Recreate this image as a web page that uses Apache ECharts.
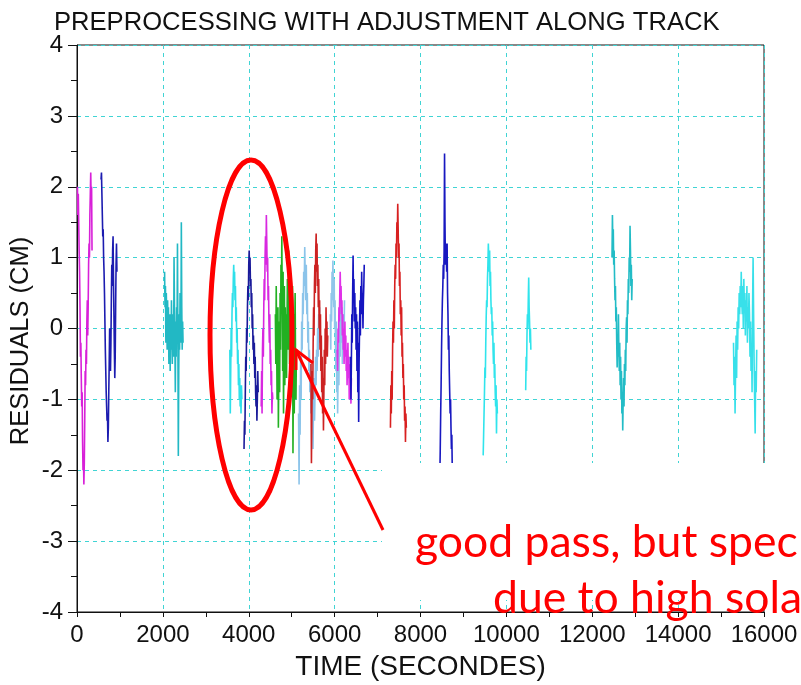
<!DOCTYPE html>
<html><head><meta charset="utf-8">
<script src="https://cdn.jsdelivr.net/npm/echarts@6/dist/echarts.min.js"></script>
<style>html,body{margin:0;padding:0;background:#fff}#c{width:801px;height:685px}</style>
</head><body><div id="c"></div>
<script>
// Tick labels
const xTicks = [0,2000,4000,6000,8000,10000,12000,14000,16000];
const yTicks = [-4,-3,-2,-1,0,1,2,3,4];
// Each pass: start time (s), sample step (s), residual values (cm)
const passStart = [10, 560, 2040, 3560, 3890, 4290, 4620, 5160, 5450, 5900, 6060, 6370, 7300, 8440, 9460, 10450, 12460, 15290];
const passStep  = [10, 10, 10, 10, 10, 10, 10, 12, 10, 10, 10, 10, 10, 10, 10, 10, 10, 12];
const pass01 = [2.0,1.6,1.9,1.5,1.1,0.8,0.3,-0.4,-0.2,-0.7,-1.1,-0.9,-1.6,-2.0,-1.8,-2.2,-1.9,-1.3,-0.6,-0.8,-0.3,-0.5,0.1,0.4,-0.1,0.3,0.9,1.2,1.0,1.6,1.9,2.2,1.8,2.0,1.1];
const pass02 = [2.1,2.2,1.9,1.6,1.3,1.4,1.0,0.8,0.5,0.1,-0.3,-0.6,-0.9,-1.1,-1.3,-1.2,-1.6,-1.4,-0.9,-0.5,0.0,-0.3,-0.6,-0.2,0.4,0.9,0.6,1.1,1.3,0.7,0.2,-0.3,-0.7,-0.4,0.3,0.9,1.2,0.8];
const pass03 = [0.8,0.3,0.6,-0.2,0.5,0.1,-0.3,0.4,0.0,0.3,-0.5,-0.2,0.2,-0.6,0.1,-0.3,0.4,-0.1,-0.5,0.2,0.0,-0.4,1.0,0.3,-0.2,-0.9,0.1,-0.4,0.3,-0.1,1.2,-0.2,-1.8,-0.6,0.2,-0.3,0.5,0.0,-0.2,1.5,0.3,-0.3,0.1,-0.2];
const pass04 = [-0.3,-1.2,-0.6,0.0,-0.4,0.2,0.5,0.3,0.7,0.9,0.6,0.8,0.4,0.6,0.1,0.3,-0.2,0.0,-0.5,-0.3,-0.8,-0.5,-1.0,-0.7,-1.1,-0.9,-1.2,-0.8,-1.0];
const pass05 = [-1.7,-1.3,-1.5,-0.9,-0.4,-0.6,0.0,-0.2,0.3,0.6,0.4,0.9,1.1,0.8,1.0,0.6,0.7,0.3,0.5,0.0,0.2,-0.3,-0.1,-0.5,-0.2,-0.7,-0.4,-0.9,-1.1,-0.8,-1.3,-1.0,-0.6,-0.9];
const pass06 = [-1.1,-0.6,-1.2,-0.3,0.0,-0.4,0.3,0.7,0.4,1.0,1.3,0.9,1.6,1.2,0.8,1.0,0.4,0.6,0.1,-0.2,0.2,-0.5,-0.3,-0.8,-0.6,-1.2,-0.9,-1.0];
const pass07 = [0.2,-0.5,0.6,-0.2,-1.0,-0.4,0.3,-1.4,-0.6,0.1,-0.9,0.5,-0.3,0.9,0.2,1.3,0.4,-0.6,0.8,-1.2,-0.2,0.6,-0.8,0.3,-0.4,0.2,-0.7,0.0,0.7,-0.3,0.4,1.1,0.2,-0.5,0.9,-0.2,0.3,-0.9,0.1,-0.4,0.6,-1.76,-0.6,0.2,-1.2,-0.1,0.5,-0.5,-1.0,-0.3];
const pass08 = [-1.2,-2.2,-0.8,-1.5,-0.4,-1.0,0.1,-0.3,0.5,0.2,0.8,0.6,1.15,0.7,0.4,0.9,0.2,0.5,-0.2,0.1,-0.6,-0.3,-0.9,-0.5,-1.2,-0.8,-1.4,-1.0,-1.7,-1.1,-0.7,-1.3,-0.9,-0.4,-0.8,-0.3,-0.6,0.0,-0.4,0.2,-0.2,0.3];
const pass09 = [-0.5,-1.9,-1.2,-0.6,-1.0,-0.2,0.3,-0.1,0.6,0.9,0.5,1.1,1.34,0.8,1.2,0.6,0.9,0.3,0.7,0.0,0.4,-0.3,0.2,-0.6,-0.1,-0.9,-0.4,-1.2,-0.7,-1.44,-0.9,-0.3,-0.8,0.0,-0.5,0.3,-0.2,0.1,-0.4,-0.1];
const pass10 = [0.2,-0.3,0.5,0.1,0.8,0.4,0.96,0.6,0.3,0.7,0.0,0.4,-0.2,-0.6,0.1,-0.9,-0.4,-1.2,-0.7,-0.3,-0.8,-0.1,0.2,-0.4,0.5,0.1,-0.2,0.3,-0.5,0.0,-0.3,0.2,-0.1,0.4];
const pass11 = [-0.3,-0.6,0.0,-0.2,0.3,0.1,0.5,0.8,0.4,0.6,0.2,0.4,-0.1,0.2,-0.3,0.0,-0.5,-0.2,0.1,-0.4,-0.1,-0.6,-0.3,-0.8,-0.5,-0.2,-0.7,-0.4,-1.0,-0.6,-0.8,-0.5,-1.06,-0.7];
const pass12 = [-0.4,-1.0,-0.5,0.2,-0.2,0.5,1.03,0.4,0.7,0.1,0.5,0.0,0.3,-0.3,0.2,-0.6,0.1,-0.9,-0.2,-1.32,-0.5,0.0,0.4,-0.1,0.6,0.2,0.8,0.3,0.5,0.0,0.4,0.6,0.9];
const pass13 = [-1.4,-0.8,-1.2,-0.6,-1.0,-0.3,0.1,-0.2,0.4,0.0,0.6,0.9,0.7,1.2,1.0,1.5,1.3,1.76,1.4,1.0,1.2,0.6,0.8,0.2,0.4,-0.1,0.3,-0.4,-0.2,-0.7,-0.5,-1.0,-0.8,-1.3,-1.1,-1.6,-1.2,-1.4];
const pass14 = [-2.4,-2.1,-1.7,-1.2,-0.8,-0.3,0.1,0.4,0.6,0.9,0.7,1.1,2.47,1.5,0.9,1.2,1.0,0.8,1.2,0.5,0.2,-0.3,-0.1,-0.6,-0.9,-1.2,-1.0,-1.4,-1.7,-1.5,-2.0,-2.3];
const pass15 = [-1.79,-1.5,-1.2,-0.9,-0.55,-0.7,-0.2,0.16,0.4,0.3,0.7,0.9,1.2,1.0,0.8,1.1,0.6,0.8,0.4,0.2,0.3,-0.1,0.1,-0.3,-0.5,-0.2,-0.7,-0.5,-0.9,-1.1,-0.8,-1.48,-1.0,-1.2];
const pass16 = [-0.87,-0.4,-0.6,-0.1,0.2,0.0,0.4,0.72,0.3,0.1,-0.2,0.0,-0.3];
const pass17 = [1.0,1.6,1.2,1.4,0.9,1.1,0.7,0.4,0.6,0.1,0.3,-0.2,-0.55,-0.1,-0.4,0.2,-0.3,-0.6,-0.2,-0.8,-0.4,-1.0,-0.6,-1.2,-0.9,-1.44,-1.0,-0.7,-1.1,-0.5,-0.8,-0.3,-0.6,0.0,0.16,-0.2,0.4,0.2,0.7,0.5,1.0,0.8,1.45,1.1,0.6,0.9,0.4,0.7];
const pass18 = [-0.2,-0.8,-0.4,-1.2,-0.6,-0.1,-0.7,0.1,-0.3,0.3,0.0,0.5,0.2,0.6,0.3,0.8,0.4,0.2,0.6,0.0,0.7,0.3,0.5,-0.1,0.4,0.1,0.6,-0.2,0.3,0.0,0.5,0.2,-0.4,0.1,-0.6,-0.2,-0.9,0.3,1.0,0.2,-0.5,-1.0,-1.48,-0.6,-0.9,-0.3];

const passes = [pass01,pass02,pass03,pass04,pass05,pass06,pass07,pass08,pass09,pass10,pass11,pass12,pass13,pass14,pass15,pass16,pass17,pass18];
const passColors = ['#d820d8','#1c1cb0','#22b8c4','#2ee0ea','#1a1a9a','#d828e0','#22b022','#8cc4ea','#cc2222','#90c6ea','#e030e8','#1515c0','#d82020','#1818c0','#30e4ec','#30e4ec','#22bcc6','#38e0ea'];

const series = passes.map((vals, k) => ({
  type: 'line',
  showSymbol: false,
  silent: true,
  animation: false,
  lineStyle: { color: passColors[k], width: 1.6 },
  data: vals.map((v, i) => [passStart[k] + i * passStep[k], v])
}));

const chart = echarts.init(document.getElementById('c'), null, { renderer: 'canvas' });
const gridLine = { show: true, lineStyle: { color: '#40d4d4', type: [4, 4], width: 1 } };
const labelFont = { fontFamily: 'Liberation Sans', fontSize: 24, color: '#111' };
chart.setOption({
  animation: false,
  backgroundColor: '#fff',
  title: {
    text: 'PREPROCESSING WITH ADJUSTMENT ALONG TRACK',
    left: 49, top: 5,
    textStyle: { fontFamily: 'Liberation Sans', fontSize: 25.6, fontWeight: 'normal', color: '#111' }
  },
  grid: { left: 77, right: 37, top: 45, bottom: 73, outerBoundsMode: 'none', containLabel: false, show: true, borderColor: '#111', borderWidth: 1, backgroundColor: 'transparent' },
  xAxis: {
    type: 'value', min: 0, max: 16000, interval: 2000,
    axisLine: { show: true, onZero: false, lineStyle: { color: '#111' } },
    axisTick: { show: true, length: 5, lineStyle: { color: '#111' } },
    minorTick: { show: true, splitNumber: 2, length: 5, lineStyle: { color: '#111' } },
    splitLine: gridLine,
    axisLabel: Object.assign({ margin: 11, formatter: v => xTicks.includes(v) ? String(v) : '' }, labelFont),
    name: 'TIME (SECONDES)', nameLocation: 'middle', nameGap: 41,
    nameTextStyle: { fontFamily: 'Liberation Sans', fontSize: 28, color: '#111' }
  },
  yAxis: {
    type: 'value', min: -4, max: 4, interval: 1,
    axisLine: { show: true, onZero: false, lineStyle: { color: '#111' } },
    axisTick: { show: true, length: 9, lineStyle: { color: '#111' } },
    minorTick: { show: true, splitNumber: 2, length: 6, lineStyle: { color: '#111' } },
    splitLine: gridLine,
    axisLabel: Object.assign({ margin: 14, formatter: v => yTicks.includes(v) ? String(v) : '' }, labelFont)
  },
  series: series,
  graphic: [
    { type: 'text', x: 21, y: 341, rotation: Math.PI / 2, style: { text: 'RESIDUALS (CM)', font: '25.5px "Liberation Sans"', fill: '#111', align: 'center', verticalAlign: 'middle' } },
    { type: 'rect', z: 100, shape: { x: 382, y: 463, width: 419, height: 137 }, style: { fill: '#fff' } },
    { type: 'ellipse', z: 110, shape: { cx: 251, cy: 335, rx: 41, ry: 175 }, style: { fill: 'none', stroke: '#f00', lineWidth: 5 } },
    { type: 'line', z: 110, shape: { x1: 383, y1: 530, x2: 296, y2: 350 }, style: { stroke: '#f00', lineWidth: 3 } },
    { type: 'polyline', z: 110, shape: { points: [[313, 363], [296, 350], [296, 370]] }, style: { stroke: '#f00', lineWidth: 3, fill: 'none' } },
    { type: 'text', z: 120, style: { text: 'good pass, but spec', x: 415, y: 520, font: '44.5px Lato', fill: '#f00', verticalAlign: 'alphabetic' } },
    { type: 'text', z: 120, style: { text: 'due to high sola', x: 493, y: 576, font: '44.5px Lato', fill: '#f00', verticalAlign: 'alphabetic' } }
  ]
});
</script>
</body></html>
